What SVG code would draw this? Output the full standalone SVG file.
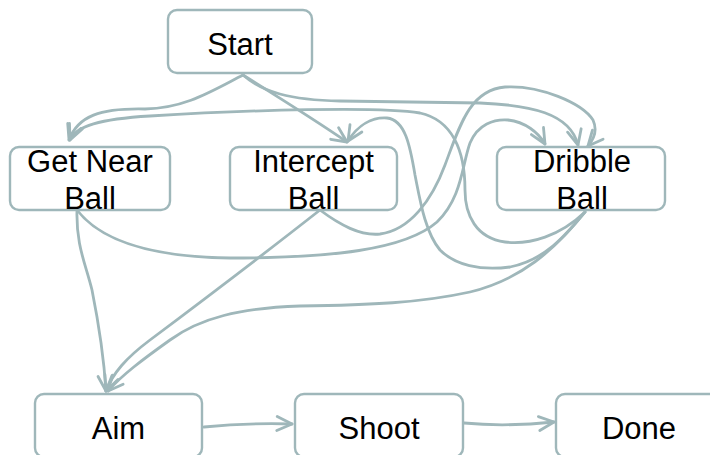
<svg xmlns="http://www.w3.org/2000/svg" width="710" height="455" viewBox="0 0 710 455">
  <style>
    .box { fill: #ffffff; stroke: #9fb7ba; stroke-width: 2.4; }
    .lbl { font-family: "Liberation Sans", Arial, sans-serif; font-size: 31px; fill: #000000; text-anchor: middle; }
    .edge { fill: none; stroke: #9fb7ba; stroke-width: 2.8; stroke-linecap: round; marker-end: url(#arrow); }
  </style>
  <defs>
    <marker id="arrow" markerUnits="userSpaceOnUse" markerWidth="20" markerHeight="20" viewBox="-17 -10 20 20" refX="0" refY="0" orient="auto">
      <path d="M-15,-7 L0,0 L-15,7" fill="none" stroke="#9fb7ba" stroke-width="2.8" stroke-linecap="round" stroke-linejoin="round"/>
    </marker>
  </defs>

  <g id="edges">
    <!-- Start -> Get Near Ball -->
    <path class="edge" d="M243,75 C210,92 185,108 145,109 C100,108 78,116 69,140"/>
    <!-- Start -> Intercept Ball -->
    <path class="edge" d="M243,75 C275,95 315,120 347,142"/>
    <!-- Start -> Dribble Ball -->
    <path class="edge" d="M243,75 C262,92 290,100 340,101 L480,103 C530,105 570,113 578,145"/>
    <!-- Get Near Ball -> Dribble Ball -->
    <path class="edge" d="M77,210 C100,240 150,257 230,258 C330,258 405,250 437,222 C462,198 462,165 470,143 C478,124 494,119 508,120 C525,122 538,132 545,144"/>
    <!-- Intercept Ball -> Dribble Ball -->
    <path class="edge" d="M320,210 C340,225 360,236 380,234 C410,230 432,200 445,165 C460,125 470,90 505,87 C540,85 582,103 593,120 C598,131 594,139 588,146"/>
    <!-- Dribble Ball -> Get Near Ball -->
    <path class="edge" d="M585,212 C560,236 530,245 505,242 C476,238 465,215 465,190 C465,150 452,120 420,113 C380,106 250,110 150,116 C100,119 76,126 70,140"/>
    <!-- Dribble Ball -> Intercept Ball -->
    <path class="edge" d="M585,212 C565,236 545,260 510,267 C480,271 455,265 440,250 C425,232 420,200 415,175 C410,145 405,120 387,118 C372,117 358,125 348,141"/>
    <!-- Get Near Ball -> Aim -->
    <path class="edge" d="M77,210 C76,245 85,262 92,290 C98,320 104,360 106,391"/>
    <!-- Intercept Ball -> Aim -->
    <path class="edge" d="M320,210 C250,265 190,310 150,340 C126,358 113,373 106,391"/>
    <!-- Dribble Ball -> Aim -->
    <path class="edge" d="M585,212 C555,250 520,280 470,292 C420,303 370,305 300,306 C240,308 200,318 170,340 C142,360 122,375 108,391"/>
    <!-- Aim -> Shoot -->
    <path class="edge" d="M204,427 C235,424 260,423 292,424"/>
    <!-- Shoot -> Done -->
    <path class="edge" d="M464,423 C495,426 525,425 554,422"/>
  </g>

  <g id="start">
    <rect class="box" x="168" y="10" width="144" height="63" rx="9"/>
    <text class="lbl" x="240" y="55">Start</text>
  </g>
  <g id="get-near-ball">
    <rect class="box" x="10" y="147" width="160" height="63" rx="9"/>
    <text class="lbl" x="90" y="172">Get Near</text>
    <text class="lbl" x="90" y="209">Ball</text>
  </g>
  <g id="intercept-ball">
    <rect class="box" x="230" y="147" width="167" height="63" rx="9"/>
    <text class="lbl" x="313.5" y="172">Intercept</text>
    <text class="lbl" x="313.5" y="209">Ball</text>
  </g>
  <g id="dribble-ball">
    <rect class="box" x="497" y="147" width="168" height="63" rx="9"/>
    <text class="lbl" x="582" y="172">Dribble</text>
    <text class="lbl" x="582" y="209">Ball</text>
  </g>
  <g id="aim">
    <rect class="box" x="35" y="394" width="167" height="63" rx="9"/>
    <text class="lbl" x="118.5" y="439">Aim</text>
  </g>
  <g id="shoot">
    <rect class="box" x="295" y="394" width="168" height="63" rx="9"/>
    <text class="lbl" x="379" y="439">Shoot</text>
  </g>
  <g id="done">
    <rect class="box" x="556" y="394" width="168" height="63" rx="9"/>
    <text class="lbl" x="639" y="439">Done</text>
  </g>
</svg>
